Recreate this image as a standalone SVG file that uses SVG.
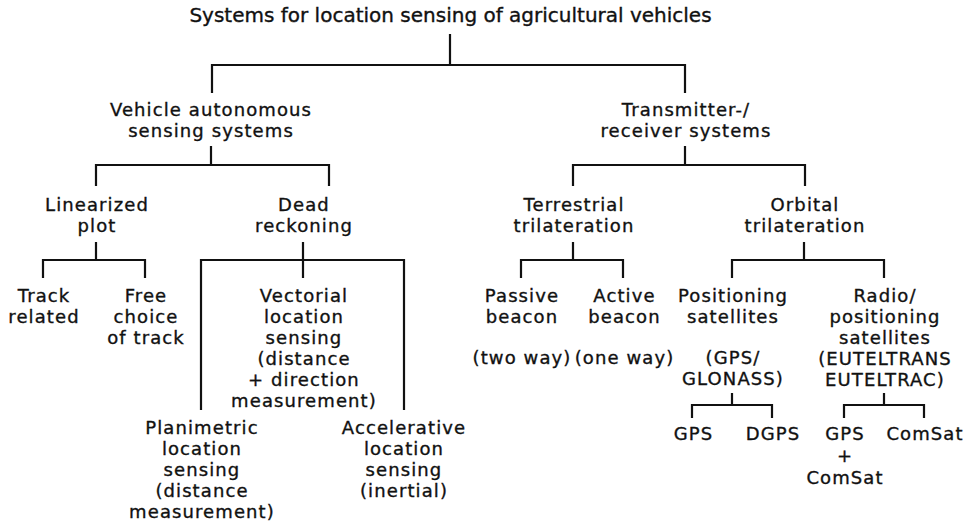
<svg xmlns="http://www.w3.org/2000/svg" width="972" height="524" viewBox="0 0 972 524">
<style>
text{font-family:"DejaVu Sans","Liberation Sans",sans-serif;font-size:18px;letter-spacing:1.1px;fill:#111;stroke:#111;stroke-width:0.35;text-anchor:middle}
text.t{font-size:20px;letter-spacing:0}
.c{fill:none;stroke:#111;stroke-width:2.2;stroke-linecap:square;stroke-linejoin:miter}
</style>
<rect width="972" height="524" fill="#fff"/>
<g id="connectors" class="c">
<path d="M450 35V65M212 92V65H685V92"/>
<path d="M211 147V165M96 185V165H329V185"/>
<path d="M685 147V165M573 185V165H805V185"/>
<path d="M96 243V260M43 277V260H145V277"/>
<path d="M303 243V277M201 409V260H404V409"/>
<path d="M573 243V260M521 277V260H623V277"/>
<path d="M804 243V260M732 277V260H884V277"/>
<path d="M732 394V405M692 417V405H772V417"/>
<path d="M884 394V405M844 417V405H924V417"/>
</g>
<g id="root"><text class="t" x="450.5" y="22">Systems for location sensing of agricultural vehicles</text></g>
<g id="vehicle-autonomous"><text x="211" y="116">Vehicle autonomous<tspan x="211" dy="21">sensing systems</tspan></text></g>
<g id="transmitter-receiver"><text x="686" y="116">Transmitter-/<tspan x="686" dy="21">receiver systems</tspan></text></g>
<g id="linearized-plot"><text x="97" y="211">Linearized<tspan x="97" dy="21">plot</tspan></text></g>
<g id="dead-reckoning"><text x="304" y="211">Dead<tspan x="304" dy="21">reckoning</tspan></text></g>
<g id="terrestrial"><text x="574" y="211">Terrestrial<tspan x="574" dy="21">trilateration</tspan></text></g>
<g id="orbital"><text x="805" y="211">Orbital<tspan x="805" dy="21">trilateration</tspan></text></g>
<g id="track-related"><text x="44" y="302">Track<tspan x="44" dy="21">related</tspan></text></g>
<g id="free-choice"><text x="146" y="302">Free<tspan x="146" dy="21">choice</tspan><tspan x="146" dy="21">of track</tspan></text></g>
<g id="vectorial"><text x="304" y="302">Vectorial<tspan x="304" dy="21">location</tspan><tspan x="304" dy="21">sensing</tspan><tspan x="304" dy="21">(distance</tspan><tspan x="304" dy="21">+ direction</tspan><tspan x="304" dy="21">measurement)</tspan></text></g>
<g id="planimetric"><text x="202" y="434">Planimetric<tspan x="202" dy="21">location</tspan><tspan x="202" dy="21">sensing</tspan><tspan x="202" dy="21">(distance</tspan><tspan x="202" dy="21">measurement)</tspan></text></g>
<g id="accelerative"><text x="404" y="434">Accelerative<tspan x="404" dy="21">location</tspan><tspan x="404" dy="21">sensing</tspan><tspan x="404" dy="21">(inertial)</tspan></text></g>
<g id="passive-beacon"><text x="522" y="302">Passive<tspan x="522" dy="21">beacon</tspan><tspan x="522" dy="41">(two way)</tspan></text></g>
<g id="active-beacon"><text x="624.5" y="302">Active<tspan x="624.5" dy="21">beacon</tspan><tspan x="624.5" dy="41">(one way)</tspan></text></g>
<g id="positioning-satellites"><text x="733" y="302">Positioning<tspan x="733" dy="21">satellites</tspan><tspan x="733" dy="41">(GPS/</tspan><tspan x="733" dy="21">GLONASS)</tspan></text></g>
<g id="radio-positioning"><text x="885" y="302">Radio/<tspan x="885" dy="21">positioning</tspan><tspan x="885" dy="21">satellites</tspan><tspan x="885" dy="21">(EUTELTRANS</tspan><tspan x="885" dy="21">EUTELTRAC)</tspan></text></g>
<g id="gps"><text x="693.5" y="440">GPS</text></g>
<g id="dgps"><text x="773" y="440">DGPS</text></g>
<g id="gps-comsat"><text x="845" y="440">GPS<tspan x="845" dy="22">+</tspan><tspan x="845" dy="22">ComSat</tspan></text></g>
<g id="comsat"><text x="925" y="440">ComSat</text></g>
</svg>
